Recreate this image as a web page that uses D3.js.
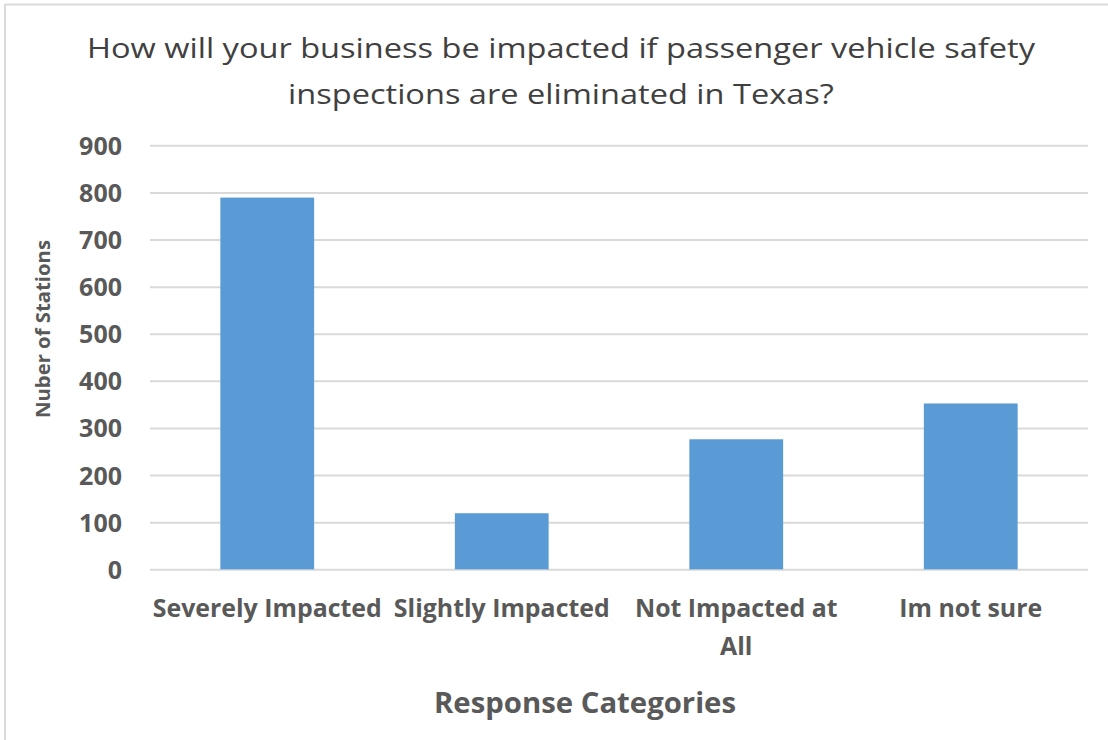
<!DOCTYPE html>
<html>
<head>
<meta charset="utf-8">
<script src="https://cdn.jsdelivr.net/npm/d3@7"></script>
<style>
  html, body { margin: 0; padding: 0; background: #ffffff; }
  svg { display: block; }
</style>
</head>
<body>
<svg id="chart" width="1108" height="740"></svg>
<script>
// ---- data ----
const titleLines = ["How will your business be impacted if passenger vehicle safety", "inspections are eliminated in Texas?"];
const categories = ["Severely Impacted", "Slightly Impacted", "Not Impacted at All", "Im not sure"];
const values = [789, 119, 276, 352];
const yTicks = [0, 100, 200, 300, 400, 500, 600, 700, 800, 900];
const xAxisTitle = "Response Categories";
const yAxisTitle = "Nuber of Stations";

// ---- layout ----
const W = 1108, H = 740;
const plot = { left: 150, right: 1088, top: 145.3, bottom: 569.3 };
const textColor = "#595959";
const svg = d3.select("#chart");

function condense(sel, k) {
  sel.each(function () {
    const n = this.getComputedTextLength();
    d3.select(this).attr("textLength", n * k).attr("lengthAdjust", "spacingAndGlyphs");
  });
}

// frame
svg.append("line").attr("x1", 5).attr("x2", 5).attr("y1", 4).attr("y2", H)
  .attr("stroke", "#d9d9d9").attr("stroke-width", 2);
svg.append("line").attr("x1", 5).attr("x2", W).attr("y1", 4.5).attr("y2", 4.5)
  .attr("stroke", "#d9d9d9").attr("stroke-width", 2);

// scales
const x = d3.scaleBand().domain(categories).range([plot.left, plot.right])
  .paddingInner(0.6).paddingOuter(0.3);
const y = d3.scaleLinear().domain([0, 900]).range([plot.bottom, plot.top]);

// y axis with gridlines
const yAxis = svg.append("g").attr("transform", `translate(${plot.left},0)`)
  .call(d3.axisLeft(y).tickValues(yTicks).tickSize(-(plot.right - plot.left)).tickPadding(28).tickFormat(d3.format("d")));
yAxis.select(".domain").remove();
yAxis.selectAll(".tick line").attr("stroke", "#d9d9d9").attr("stroke-width", 2);
yAxis.selectAll(".tick text")
  .attr("fill", textColor)
  .style("font-family", "'Open Sans', sans-serif")
  .style("font-weight", "bold")
  .style("font-size", "25px")
  .attr("dy", "0.36em");

// bars
svg.append("g").selectAll("rect").data(values).join("rect")
  .attr("x", (d, i) => x(categories[i]))
  .attr("width", x.bandwidth())
  .attr("y", d => y(d))
  .attr("height", d => y(0) - y(d))
  .attr("fill", "#5b9bd5");

// x axis labels
const xAxis = svg.append("g").attr("transform", `translate(0,${plot.bottom})`)
  .call(d3.axisBottom(x).tickSize(0).tickPadding(0));
xAxis.select(".domain").remove();
xAxis.selectAll(".tick text").remove();

const catFont = { family: "'Open Sans', sans-serif", size: "25px" };
const probe = svg.append("text").text(categories[0])
  .style("font-family", catFont.family).style("font-weight", "bold").style("font-size", catFont.size);
const catK = 229 / probe.node().getComputedTextLength();
probe.remove();

xAxis.selectAll(".tick").each(function (d) {
  const g = d3.select(this);
  const words = d.split(" ");
  const lines = [];
  let cur = [];
  const meas = g.append("text").style("font-family", catFont.family)
    .style("font-weight", "bold").style("font-size", catFont.size);
  words.forEach(w => {
    const trial = cur.concat([w]).join(" ");
    meas.text(trial);
    if (cur.length && meas.node().getComputedTextLength() * catK > x.step()) {
      lines.push(cur.join(" "));
      cur = [w];
    } else cur.push(w);
  });
  lines.push(cur.join(" "));
  meas.remove();
  lines.forEach((ln, i) => {
    g.append("text")
      .attr("x", 0).attr("y", 48 + i * 37.5)
      .attr("text-anchor", "middle")
      .attr("fill", textColor)
      .style("font-family", catFont.family)
      .style("font-weight", "bold")
      .style("font-size", catFont.size)
      .text(ln)
      .call(condense, catK);
  });
});

// title
const title = svg.append("g");
const t1 = title.append("text").text(titleLines[0])
  .style("font-family", "'Open Sans', sans-serif").style("font-size", "28px");
const titleK = 948 / t1.node().getComputedTextLength();
t1.remove();
titleLines.forEach((ln, i) => {
  title.append("text")
    .attr("x", 561).attr("y", 58 + i * 45.5)
    .attr("text-anchor", "middle")
    .attr("fill", "#404040")
    .style("font-family", "'Open Sans', sans-serif")
    .style("font-size", "28px")
    .text(ln)
    .call(condense, titleK);
});

// x axis title
const xt = svg.append("text")
  .attr("x", 585).attr("y", 713)
  .attr("text-anchor", "middle")
  .attr("fill", textColor)
  .style("font-family", "'Open Sans', sans-serif")
  .style("font-weight", "bold")
  .style("font-size", "28px")
  .text(xAxisTitle);
xt.call(condense, 302 / xt.node().getComputedTextLength());

// y axis title
const yt = svg.append("text")
  .attr("transform", "translate(50,329) rotate(-90)")
  .attr("text-anchor", "middle")
  .attr("fill", textColor)
  .style("font-family", "'Open Sans', sans-serif")
  .style("font-weight", "bold")
  .style("font-size", "19px")
  .text(yAxisTitle);
yt.call(condense, 178 / yt.node().getComputedTextLength());
</script>
</body>
</html>
